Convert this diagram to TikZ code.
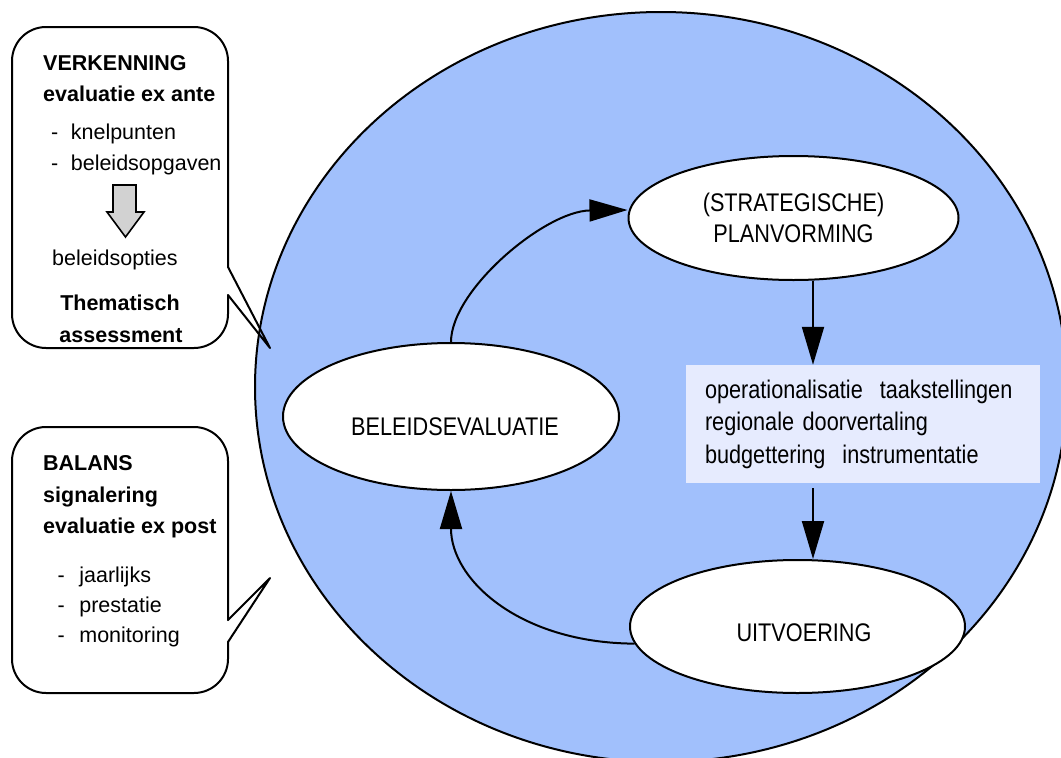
\documentclass[tikz,border=0pt]{standalone}
\usepackage{fontspec}
\setmainfont{Liberation Sans}
\newfontfamily\narrowfont[FakeStretch=0.85]{Liberation Sans}
\usetikzlibrary{shapes.geometric,arrows.meta,calc}
\definecolor{bigblue}{RGB}{161,192,252}
\definecolor{opsfill}{RGB}{230,235,254}
\definecolor{blockgray}{RGB}{210,210,210}
\begin{document}
\begin{tikzpicture}[x=1pt,y=-1pt,
  stage/.style={ellipse, draw=black, line width=2pt, fill=white, inner sep=0pt,
    font=\narrowfont\fontsize{25.5}{31}\selectfont, align=center},
  flow/.style={line width=2pt, -{Triangle[length=38pt,width=22pt]}},
  callout/.style={line width=2pt, line join=round, line cap=round},
  ctext/.style={anchor=base west, inner sep=0pt, font=\fontsize{21.5}{32}\selectfont},
  cbold/.style={anchor=base west, inner sep=0pt, font=\bfseries\fontsize{21.5}{32}\selectfont},
]
\useasboundingbox (0,0) rectangle (1061,758);
\fill[white] (0,0) rectangle (1061,758);
\clip (0,0) rectangle (1061,758);

% big cycle ellipse
\draw[fill=bigblue, line width=2pt] (661,387) ellipse [x radius=406pt, y radius=375pt];

% callout top
\draw[callout, rounded corners=34pt] (228,267) -- (228,27) -- (12,27) -- (12,348) -- (228,348) -- (228,295);
\draw[callout] (228,267) -- (270,348) -- (228,295);
% callout bottom
\draw[callout, rounded corners=34pt] (228,620) -- (228,427) -- (12,427) -- (12,693) -- (228,693) -- (228,642);
\draw[callout] (228,620) -- (270,578) -- (228,642);

% block arrow in top callout
\draw[line width=1.6pt, fill=blockgray, line join=miter] (113,185) -- (136,185) -- (136,212) -- (144,212) -- (125.5,237) -- (107,212) -- (113,212) -- cycle;

% callout texts
\node[cbold] (vk) at (43,70) {VERKENNING};
\node[cbold] (exa) at (43,101) {evaluatie ex ante};
\node[ctext] (kn) at (51,139) {-\hspace{12.5pt}knelpunten};
\node[ctext] (bo) at (51,170) {-\hspace{12.5pt}beleidsopgaven};
\node[ctext] (bopt) at (52,265) {beleidsopties};
\node[cbold, anchor=base] (th) at (120,310) {Thematisch};
\node[cbold, anchor=base] (as) at (121,342) {assessment};

\node[cbold] (bal) at (43,470) {BALANS};
\node[cbold] (sig) at (43,502) {signalering};
\node[cbold] (exp) at (43,533) {evaluatie ex post};
\node[ctext] (jl) at (57.5,582) {-\hspace{14.5pt}jaarlijks};
\node[ctext] (pr) at (57.5,612) {-\hspace{14.5pt}prestatie};
\node[ctext] (mo) at (57.5,642) {-\hspace{14.5pt}monitoring};

% stage nodes
\node[stage, minimum width=330pt, minimum height=124pt] (plan) at (793.5,218) {(STRATEGISCHE)\\PLANVORMING};
\node[stage, minimum width=336pt, minimum height=147pt, text height=37.2pt, text depth=0pt] (bel) at (451,416.5) {\hspace*{8pt}BELEIDSEVALUATIE};
\node[stage, minimum width=335pt, minimum height=133pt, text height=29.2pt, text depth=0pt] (uit) at (797.5,626.5) {\hspace*{13pt}UITVOERING};

\node[fill=opsfill, minimum width=354pt, minimum height=118pt, inner xsep=19pt, inner ysep=0pt,
  text width=316pt, align=left, font=\narrowfont\fontsize{25.5}{32.5}\selectfont] (ops) at (863,424)
  {operationalisatie\ \ taakstellingen\\regionale doorvertaling\\budgettering\ \ instrumentatie};

% connectors
\coordinate (ax) at (813,0);
\draw[flow] (plan.south -| ax) -- (ops.north -| ax);
\draw[flow] ($(ops.south -| ax)+(0,5)$) -- (uit.north -| ax);
\draw[flow] (bel.north) .. controls (451,290) and (545,211) .. ($(plan.west)+(0,-8)$);
\draw[flow] (uit.186) .. controls (520,643) and (451,580) .. (bel.south);
\end{tikzpicture}
\end{document}
